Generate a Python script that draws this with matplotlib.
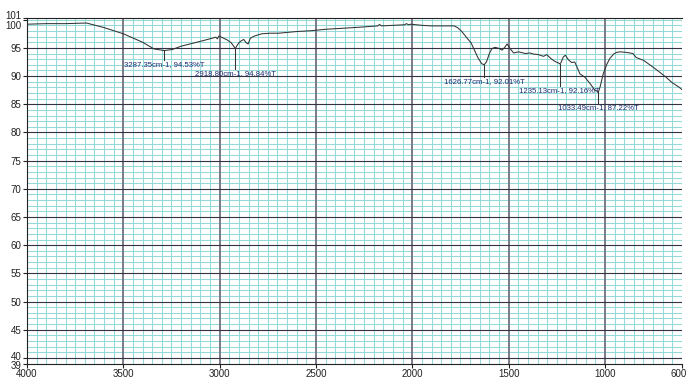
import matplotlib
matplotlib.use("Agg")
import matplotlib.pyplot as plt
from matplotlib.ticker import FixedLocator
from matplotlib.transforms import ScaledTranslation
import numpy as np

plt.rcParams['font.family'] = ['Liberation Sans', 'DejaVu Sans']

# Spectrum trace (wavenumber cm-1, %T)
wavenumber = [4000, 3900, 3800, 3700, 3690, 3600, 3500, 3400, 3340, 3287.35, 3247, 3200,
              3107, 3040, 3020, 3012, 3004, 2985, 2960, 2940, 2925, 2918.8, 2912, 2900,
              2890, 2875, 2862, 2852, 2841, 2820, 2781, 2740, 2695, 2600, 2524, 2450,
              2350, 2260, 2179, 2170, 2160, 2100, 2040, 2030, 2020, 2008, 1950, 1905,
              1850, 1800, 1783, 1765, 1743, 1715, 1695, 1680, 1660, 1640, 1626.77, 1615,
              1600, 1586, 1570, 1550, 1534, 1520, 1508, 1493, 1474, 1448, 1413, 1390,
              1370, 1345, 1319, 1302, 1280, 1260, 1240, 1235.13, 1228, 1216, 1205, 1190,
              1173, 1157, 1145, 1130, 1104, 1078, 1052, 1033.49, 1025, 1009, 990, 975,
              955, 940, 920, 889, 870, 855, 838, 800, 751, 720, 683, 650, 614, 600]
transmittance = [99.2, 99.3, 99.3, 99.4, 99.4, 98.6, 97.5, 96.0, 94.8, 94.53, 94.7, 95.3,
                 96.1, 96.7, 96.9, 96.6, 97.1, 96.8, 96.4, 95.9, 95.2, 94.84, 95.3, 95.9,
                 96.2, 96.5, 95.9, 95.7, 96.7, 97.1, 97.5, 97.6, 97.6, 97.9, 98.05, 98.3,
                 98.5, 98.7, 98.9, 99.15, 98.9, 99.0, 99.1, 99.3, 99.1, 99.2, 99.0, 98.9,
                 98.9, 98.9, 98.9, 98.6, 97.9, 96.7, 95.9, 94.8, 93.3, 92.2, 92.01, 92.5,
                 94.0, 94.9, 95.1, 94.9, 94.6, 95.1, 95.7, 94.9, 94.1, 94.3, 94.0, 94.1,
                 93.9, 93.8, 93.5, 93.8, 93.1, 92.6, 92.3, 92.16, 92.4, 93.4, 93.7, 92.9,
                 92.4, 92.5, 91.6, 90.4, 89.8, 88.7, 87.5, 87.22, 88.1, 90.4, 92.1, 93.1,
                 93.9, 94.2, 94.3, 94.2, 94.1, 94.0, 93.3, 92.8, 91.6, 90.8, 89.8, 88.8, 88.0, 87.6]

# Peak annotations
peak_wn = [3287.35, 2918.80, 1626.77, 1235.13, 1033.49]
peak_t = [94.53, 94.84, 92.01, 92.16, 87.22]
peak_line_end = [92.9, 91.3, 89.9, 88.3, 85.3]
peak_text_y = [92.1, 90.5, 89.1, 87.5, 84.5]

x_ticks = [4000, 3500, 3000, 2500, 2000, 1500, 1000, 600]
y_ticks = [100.3, 100, 95, 90, 85, 80, 75, 70, 65, 60, 55, 50, 45, 40, 39]
y_tick_labels = ['101', '100', '95', '90', '85', '80', '75', '70', '65', '60', '55', '50', '45', '40', '39']

fig = plt.figure(figsize=(6.91, 3.78), dpi=100)
ax = fig.add_axes([27/691, 1 - 363.6/378, (682-27)/691, (363.6-18.0)/378])
ax.set_xlim(4000, 600)
ax.set_ylim(39, 100.3)

# minor cyan grid
for xv in np.arange(600, 4001, 50):
    if xv % 500 != 0:
        ax.axvline(xv, color='#96d9d9', lw=0.75, zorder=0)
for yv in range(39, 101):
    if yv % 5 != 0 or yv == 100:
        ax.axhline(yv, color='#96d9d9', lw=0.75, zorder=0)
# major grid
for xv in range(1000, 4000, 500):
    ax.axvline(xv, color='#7a7a88', lw=1.4, zorder=1)
for yv in range(40, 100, 5):
    ax.axhline(yv, color='#333344', lw=0.8, zorder=1)

ax.plot(wavenumber, transmittance, color='#333333', lw=0.75, zorder=3)

for wn, t, le, ty in zip(peak_wn, peak_t, peak_line_end, peak_text_y):
    ax.plot([wn, wn], [t, le], color='#333333', lw=0.75, zorder=3)
    ax.text(wn, ty, f"{wn:.2f}cm-1, {t:.2f}%T", ha='center', va='center',
            fontsize=5.6, color='#1f2a70', zorder=4)

ax.xaxis.set_major_locator(FixedLocator(x_ticks))
ax.yaxis.set_major_locator(FixedLocator(y_ticks))
ax.set_xticklabels([str(v) for v in x_ticks])
ax.set_yticklabels(y_tick_labels)
ax.tick_params(axis='both', labelsize=7, length=3, width=0.8, pad=1, colors='#222222')
ax.spines['right'].set_visible(False)
for s in ['left', 'bottom', 'top']:
    ax.spines[s].set_color('#222222')
    ax.spines[s].set_linewidth(0.8)

# nudge crowded labels
ylabels = ax.get_yticklabels()
ylabels[0].set_transform(ylabels[0].get_transform() + ScaledTranslation(0, 0.025, fig.dpi_scale_trans))
ylabels[1].set_transform(ylabels[1].get_transform() + ScaledTranslation(0, -0.055, fig.dpi_scale_trans))
ylabels[-2].set_transform(ylabels[-2].get_transform() + ScaledTranslation(0, 0.02, fig.dpi_scale_trans))
ylabels[-1].set_transform(ylabels[-1].get_transform() + ScaledTranslation(0, -0.01, fig.dpi_scale_trans))
xlabels = ax.get_xticklabels()
xlabels[-1].set_transform(xlabels[-1].get_transform() + ScaledTranslation(-0.03, 0, fig.dpi_scale_trans))

fig.savefig('out.png', dpi=100)
